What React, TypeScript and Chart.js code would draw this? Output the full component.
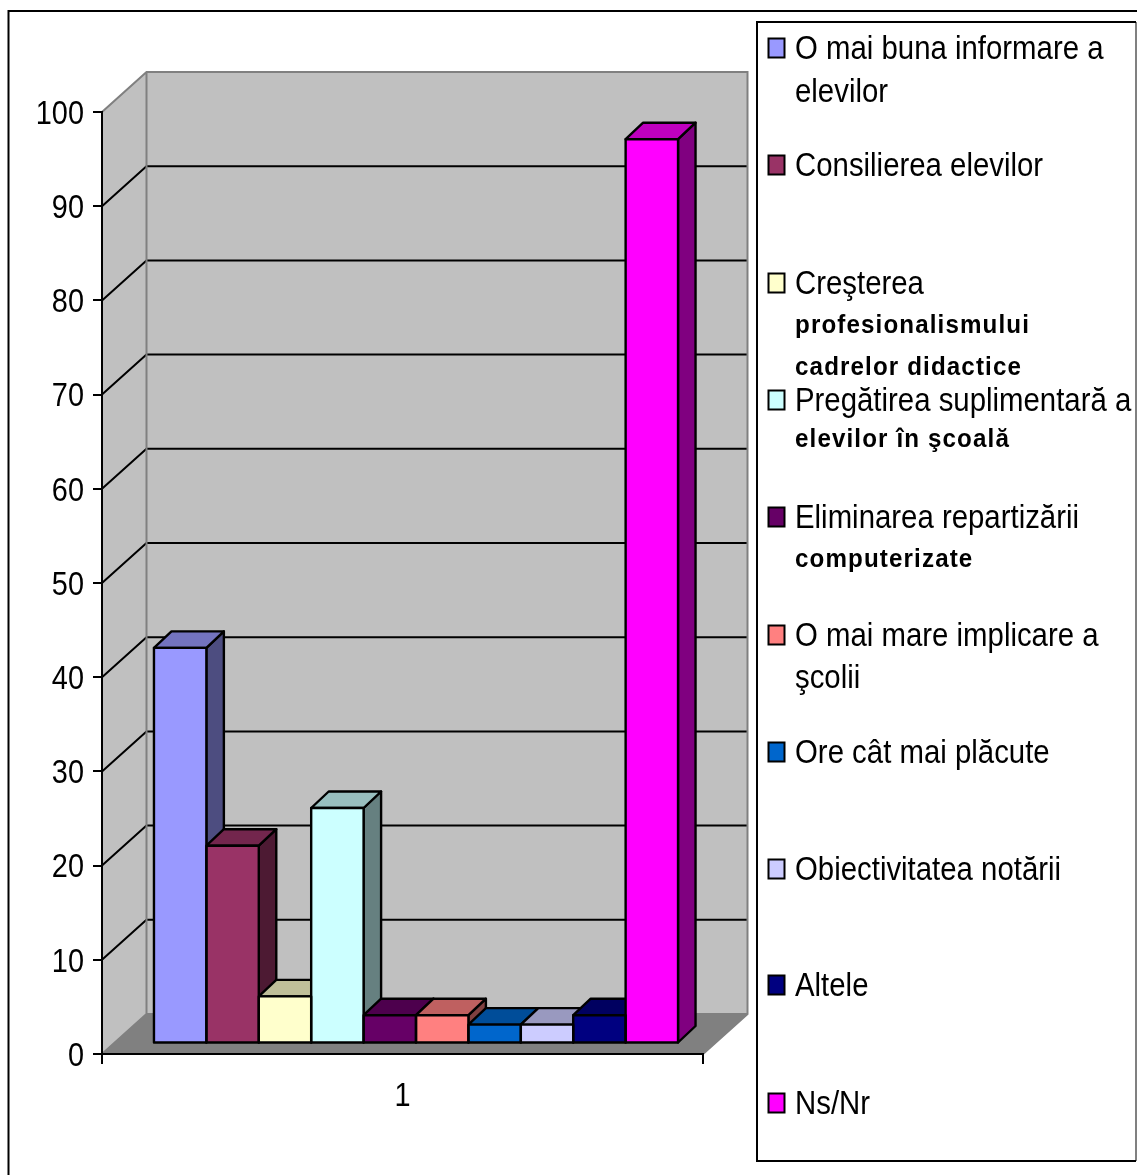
import React, { useEffect, useRef } from "react";
import { Chart, registerables } from "chart.js";

Chart.register(...registerables);

const categories = ["1"];
const seriesLabels = [
  "O mai buna informare a elevilor",
  "Consilierea elevilor",
  "Creşterea profesionalismului cadrelor didactice",
  "Pregătirea suplimentară a elevilor în şcoală",
  "Eliminarea repartizării computerizate",
  "O mai mare implicare a şcolii",
  "Ore cât mai plăcute",
  "Obiectivitatea notării",
  "Altele",
  "Ns/Nr",
];
const seriesValues = [42, 21, 5, 25, 3, 3, 2, 2, 3, 96];
const seriesColors = ["#9999FF", "#993366", "#FFFFCC", "#CCFFFF", "#660066", "#FF8080", "#0066CC", "#CCCCFF", "#000080", "#FF00FF"];
const legendLines = [
  ["O mai buna informare a", "elevilor"],
  ["Consilierea elevilor"],
  ["Creşterea", "profesionalismului", "cadrelor didactice"],
  ["Pregătirea suplimentară a", "elevilor în şcoală"],
  ["Eliminarea repartizării", "computerizate"],
  ["O mai mare implicare a", "şcolii"],
  ["Ore cât mai plăcute"],
  ["Obiectivitatea notării"],
  ["Altele"],
  ["Ns/Nr"],
];
const smallBoldLines = ["profesionalismului", "cadrelor didactice", "elevilor în şcoală", "computerizate"];

const W = 1137, H = 1175;
const DEPTH_X = 44.5, DEPTH_Y = 40;
const BAR_SHIFT_X = 13.5, BAR_SHIFT_Y = -10.5;
const BAR_DEPTH_X = 17.5, BAR_DEPTH_Y = 16.5;
const FONT = '"Liberation Sans", Arial, sans-serif';
const AXIS_SQUEEZE = 0.85;

function shade(hex: string, f: number) {
  const n = parseInt(hex.slice(1), 16);
  const c = (v: number) => Math.round(v * f);
  return `rgb(${c((n >> 16) & 255)},${c((n >> 8) & 255)},${c(n & 255)})`;
}

function poly(ctx: CanvasRenderingContext2D, pts: number[][], fill: string | null, stroke: string | null, lw = 1) {
  ctx.beginPath();
  pts.forEach((p, i) => (i ? ctx.lineTo(p[0], p[1]) : ctx.moveTo(p[0], p[1])));
  ctx.closePath();
  if (fill) { ctx.fillStyle = fill; ctx.fill(); }
  if (stroke) { ctx.strokeStyle = stroke; ctx.lineWidth = lw; ctx.lineJoin = "round"; ctx.stroke(); }
}

// the reference's type is horizontally condensed: the axes' own labels are squeezed around their anchor
function squeezeLabels(scale: any, anchor: () => number, shiftY: number) {
  if (scale.__squeezed) return;
  scale.__squeezed = true;
  const orig = scale.drawLabels;
  scale.drawLabels = function (area: any) {
    const ctx = this.ctx as CanvasRenderingContext2D;
    const a = anchor();
    ctx.save();
    ctx.translate(a, shiftY);
    ctx.scale(AXIS_SQUEEZE, 1);
    ctx.translate(-a, 0);
    orig.call(this, area);
    ctx.restore();
  };
}

const frame3d = {
  id: "frame3d",
  beforeDraw(chart: any) {
    const ctx = chart.ctx as CanvasRenderingContext2D;
    const { left: l, right: r, top: t, bottom: b } = chart.chartArea;
    squeezeLabels(chart.scales.y, () => l - 18, 2.5);
    squeezeLabels(chart.scales.x, () => (l + r) / 2, 2);
    ctx.save();
    ctx.fillStyle = "#fff";
    ctx.fillRect(0, 0, W, H);
    // outer frame
    ctx.strokeStyle = "#000";
    ctx.lineWidth = 2;
    ctx.strokeRect(8.5, 11, W + 10, H + 10);
    // walls + floor
    const dx = DEPTH_X, dy = DEPTH_Y;
    poly(ctx, [[l, t], [l + dx, t - dy], [l + dx, b - dy], [l, b]], "#C0C0C0", null);
    poly(ctx, [[l + dx, t - dy], [r + dx, t - dy], [r + dx, b - dy], [l + dx, b - dy]], "#C0C0C0", null);
    poly(ctx, [[l, b], [r, b], [r + dx, b - dy], [l + dx, b - dy]], "#808080", null);
    // grid lines on both walls
    const ys = chart.scales.y;
    ys.ticks.forEach((tk: any) => {
      if (tk.value <= 0 || tk.value >= 100) return;
      const y = ys.getPixelForValue(tk.value);
      ctx.beginPath();
      ctx.moveTo(l, y);
      ctx.lineTo(l + dx, y - dy);
      ctx.lineTo(r + dx, y - dy);
      ctx.strokeStyle = "#000";
      ctx.lineWidth = 2;
      ctx.stroke();
    });
    // wall edges
    ctx.strokeStyle = "#808080";
    ctx.lineWidth = 2;
    ctx.beginPath();
    ctx.moveTo(l, t);
    ctx.lineTo(l + dx, t - dy);
    ctx.lineTo(r + dx, t - dy);
    ctx.lineTo(r + dx, b - dy);
    ctx.lineTo(r, b);
    ctx.moveTo(l + dx, t - dy);
    ctx.lineTo(l + dx, b - dy);
    ctx.lineTo(l, b);
    ctx.moveTo(l + dx, b - dy);
    ctx.lineTo(r + dx, b - dy);
    ctx.stroke();
    ctx.restore();
  },
  beforeDatasetsDraw(chart: any) {
    const ctx = chart.ctx as CanvasRenderingContext2D;
    ctx.save();
    ctx.translate(BAR_SHIFT_X, BAR_SHIFT_Y);
    // sides and tops, left to right; the library then paints the fronts over them
    chart.data.datasets.forEach((ds: any, i: number) => {
      const el = chart.getDatasetMeta(i).data[0];
      if (!el) return;
      const x0 = el.x - el.width / 2, x1 = el.x + el.width / 2, top = el.y, base = el.base;
      const c = seriesColors[i];
      const a = BAR_DEPTH_X, d = BAR_DEPTH_Y;
      poly(ctx, [[x1, top], [x1 + a, top - d], [x1 + a, base - d], [x1, base]], shade(c, 0.5), "#000", 2.4);
      poly(ctx, [[x0, top], [x0 + a, top - d], [x1 + a, top - d], [x1, top]], shade(c, 0.75), "#000", 2.4);
    });
  },
  afterDatasetsDraw(chart: any) {
    const ctx = chart.ctx as CanvasRenderingContext2D;
    chart.data.datasets.forEach((ds: any, i: number) => {
      const el = chart.getDatasetMeta(i).data[0];
      if (!el) return;
      ctx.strokeStyle = "#000";
      ctx.lineWidth = 2.4;
      ctx.strokeRect(el.x - el.width / 2, el.y, el.width, el.base - el.y);
    });
    ctx.restore();
    // legend
    ctx.save();
    const bx0 = 757, bx1 = 1136, by0 = 22, by1 = 1161;
    ctx.fillStyle = "#fff";
    ctx.fillRect(bx0, by0, bx1 - bx0, by1 - by0);
    ctx.lineWidth = 2;
    ctx.strokeStyle = "#808080";
    ctx.beginPath();
    ctx.moveTo(bx1, by0);
    ctx.lineTo(bx1, by1);
    ctx.stroke();
    ctx.strokeStyle = "#000";
    ctx.beginPath();
    ctx.moveTo(bx1, by0);
    ctx.lineTo(bx0, by0);
    ctx.lineTo(bx0, by1);
    ctx.lineTo(bx1, by1);
    ctx.stroke();
    const centers = [48, 165, 283, 400, 517, 635, 752, 869, 985, 1103];
    const gaps: Record<string, number> = { "elevilor": 43, "profesionalismului": 39, "cadrelor didactice": 42, "elevilor în şcoală": 36, "computerizate": 39, "şcolii": 42 };
    legendLines.forEach((lines, i) => {
      const cy = centers[i];
      ctx.fillStyle = seriesColors[i];
      ctx.strokeStyle = "#000";
      ctx.lineWidth = 2;
      ctx.fillRect(768.5, cy - 9.5, 16, 19);
      ctx.strokeRect(768.5, cy - 9.5, 16, 19);
      let base = cy + 11;
      lines.forEach((txt) => {
        if (gaps[txt]) base += gaps[txt];
        const bold = smallBoldLines.includes(txt);
        ctx.save();
        ctx.fillStyle = "#000";
        ctx.textAlign = "left";
        ctx.textBaseline = "alphabetic";
        ctx.font = bold ? `bold 26px ${FONT}` : `33px ${FONT}`;
        (ctx as any).letterSpacing = bold ? "1.2px" : "0px";
        ctx.translate(795, base);
        ctx.scale(bold ? 0.93 : 0.89, 1);
        ctx.fillText(txt, 0, 0);
        ctx.restore();
      });
    });
    ctx.restore();
  },
};

export default function App() {
  const ref = useRef<HTMLCanvasElement>(null);
  useEffect(() => {
    const chart = new Chart(ref.current!, {
      type: "bar",
      data: {
        labels: categories,
        datasets: seriesLabels.map((label, i) => ({
          label,
          data: [seriesValues[i]],
          backgroundColor: seriesColors[i],
          borderColor: "#000",
          borderWidth: 0,
          categoryPercentage: 0.872,
          barPercentage: 1,
        })),
      },
      options: {
        responsive: false,
        animation: false,
        layout: { padding: { top: 112, right: W - 703, left: 0, bottom: 0 } },
        plugins: { legend: { display: false }, tooltip: { enabled: false }, title: { display: false } },
        scales: {
          x: {
            afterFit: (s: any) => { s.height = H - 1054; },
            grid: { drawOnChartArea: false, tickLength: 10, color: "#000", lineWidth: 2, offset: true },
            border: { color: "#000", width: 2 },
            ticks: { color: "#000", font: { family: FONT, size: 34 }, padding: 10 },
          },
          y: {
            min: 0,
            max: 100,
            afterFit: (s: any) => { s.width = 102; },
            grid: { drawOnChartArea: false, tickLength: 9, color: "#000", lineWidth: 2 },
            border: { color: "#000", width: 2 },
            ticks: { stepSize: 10, color: "#000", font: { family: FONT, size: 34 }, padding: 9 },
          },
        },
      },
      plugins: [frame3d],
    } as any);
    return () => chart.destroy();
  }, []);
  return <canvas ref={ref} width={W} height={H} style={{ position: "absolute", left: 0, top: 0, width: W, height: H }} />;
}
